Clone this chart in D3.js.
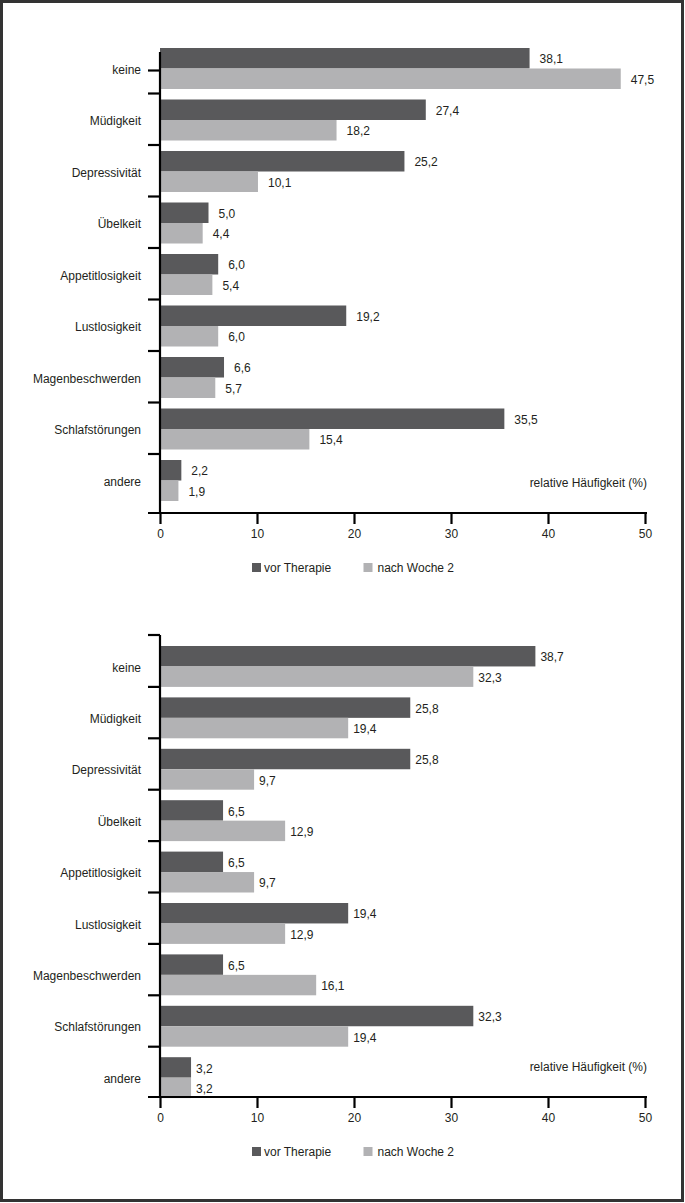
<!DOCTYPE html>
<html>
<head>
<meta charset="utf-8">
<script src="https://cdn.jsdelivr.net/npm/d3@7"></script>
<style>
  body { margin: 0; background: #fff; }
  text { font-family: "Liberation Sans", Arial, sans-serif; fill: #231f20; }
</style>
</head>
<body>
<div id="chart"></div>
<script>
// categories and values
var categories = ["keine", "Müdigkeit", "Depressivität", "Übelkeit", "Appetitlosigkeit",
                  "Lustlosigkeit", "Magenbeschwerden", "Schlafstörungen", "andere"];
var seriesNames = ["vor Therapie", "nach Woche 2"];

var topVor  = [38.1, 27.4, 25.2, 5.0, 6.0, 19.2, 6.6, 35.5, 2.2];
var topNach = [47.5, 18.2, 10.1, 4.4, 5.4, 6.0, 5.7, 15.4, 1.9];

var bottomVor  = [38.7, 25.8, 25.8, 6.5, 6.5, 19.4, 6.5, 32.3, 3.2];
var bottomNach = [32.3, 19.4, 9.7, 12.9, 9.7, 12.9, 16.1, 19.4, 3.2];

var xTicks = [0, 10, 20, 30, 40, 50];
var axisTitle = "relative Häufigkeit (%)";

var width = 685, height = 1203;
var colors = ["#59595b", "#b2b2b4"];

var de = d3.formatLocale({decimal: ",", thousands: ".", grouping: [3], currency: ["", " €"]});
var fmt = de.format(".1f");

var svg = d3.select("#chart")
  .append("svg")
    .attr("width", width)
    .attr("height", height);

// frame
svg.append("rect")
  .attr("x", 1.5).attr("y", 1.5)
  .attr("width", width - 4).attr("height", height - 4)
  .style("fill", "none")
  .style("stroke", "#333")
  .style("stroke-width", 3);

var x = d3.scaleLinear()
  .domain([0, 50])
  .range([160, 645]);

function drawChart(vor, nach, o) {
  var g = svg.append("g");
  var step = o.step, pad = 10.5 / step;

  var y = d3.scaleBand()
    .domain(categories)
    .range([o.barTop, o.barTop + step * (categories.length - pad)])
    .paddingInner(pad)
    .paddingOuter(0);

  var bh = y.bandwidth() / 2;

  var rows = categories.map(function(c, i) {
    return {cat: c, values: [vor[i], nach[i]]};
  });

  // bars
  var grp = g.selectAll(".grp")
    .data(rows)
    .enter()
    .append("g")
      .attr("class", "grp")
      .attr("transform", function(d) { return "translate(0," + y(d.cat) + ")"; });

  grp.selectAll("rect")
    .data(function(d) { return d.values; })
    .enter()
    .append("rect")
      .attr("x", x(0))
      .attr("y", function(d, i) { return i * bh; })
      .attr("width", function(d) { return x(d) - x(0); })
      .attr("height", bh)
      .style("fill", function(d, i) { return colors[i]; });

  // value labels
  grp.selectAll("text")
    .data(function(d) { return d.values; })
    .enter()
    .append("text")
      .attr("x", function(d) { return x(d) + o.labelGap; })
      .attr("y", function(d, i) { return i * bh + bh / 2 + 1; })
      .attr("dy", "0.35em")
      .style("font-size", "12px")
      .text(function(d) { return fmt(d); });

  // category labels
  g.selectAll(".cat")
    .data(categories)
    .enter()
    .append("text")
      .attr("class", "cat")
      .attr("x", 141)
      .attr("y", function(d) { return y(d) + y.bandwidth() / 2 + 1; })
      .attr("dy", "0.35em")
      .attr("text-anchor", "end")
      .style("font-size", "12px")
      .text(function(d) { return d; });

  // y axis line and ticks between the categories
  g.append("line")
    .attr("x1", x(0)).attr("x2", x(0))
    .attr("y1", o.axisTop).attr("y2", o.axisBottom)
    .style("stroke", "#000").style("stroke-width", 2.2);

  g.selectAll(".ytick")
    .data(o.tickPos(y))
    .enter()
    .append("line")
      .attr("class", "ytick")
      .attr("x1", 148).attr("x2", x(0))
      .attr("y1", function(d) { return d; })
      .attr("y2", function(d) { return d; })
      .style("stroke", "#000").style("stroke-width", 2.2);

  // x axis
  var xAxis = g.append("g")
    .attr("transform", "translate(0," + o.axisBottom + ")")
    .call(d3.axisBottom(x).tickValues(xTicks).tickSize(11).tickPadding(5).tickFormat(d3.format("d")));

  xAxis.select(".domain").remove();
  xAxis.selectAll(".tick line").style("stroke", "#000").style("stroke-width", 2.2);
  xAxis.selectAll(".tick text")
    .style("font-family", "'Liberation Sans', Arial, sans-serif")
    .style("font-size", "12px")
    .style("fill", "#231f20");

  g.append("line")
    .attr("x1", 148).attr("x2", 647)
    .attr("y1", o.axisBottom).attr("y2", o.axisBottom)
    .style("stroke", "#000").style("stroke-width", 2.2);

  g.append("text")
    .attr("x", 647)
    .attr("y", o.axisBottom - 30)
    .attr("dy", "0.35em")
    .attr("text-anchor", "end")
    .style("font-size", "12px")
    .text(axisTitle);

  // legend
  var leg = g.selectAll(".leg")
    .data(seriesNames)
    .enter()
    .append("g")
      .attr("class", "leg")
      .attr("transform", function(d, i) { return "translate(" + (252 + i * 111.5) + "," + (o.axisBottom + 50) + ")"; });

  leg.append("rect")
    .attr("width", 9).attr("height", 9)
    .style("fill", function(d, i) { return colors[i]; });

  leg.append("text")
    .attr("x", function(d, i) { return i === 0 ? 12 : 14; })
    .attr("y", 5)
    .attr("dy", "0.35em")
    .style("font-size", "12px")
    .text(function(d) { return d; });
}

// upper chart
drawChart(topVor, topNach, {
  step: 51.5, barTop: 48, axisTop: 52, axisBottom: 513, labelGap: 10,
  tickPos: function(y) {
    var t = [y(categories[0]) + y.bandwidth() / 2 + 2];
    categories.slice(1).forEach(function(c) { t.push(y(c) - 6); });
    return t;
  }
});

// lower chart
drawChart(bottomVor, bottomNach, {
  step: 51.4, barTop: 646, axisTop: 635, axisBottom: 1097, labelGap: 5,
  tickPos: function(y) {
    var t = [635];
    categories.slice(0, -1).forEach(function(c) { t.push(y(c) + y.bandwidth()); });
    return t;
  }
});
</script>
</body>
</html>
